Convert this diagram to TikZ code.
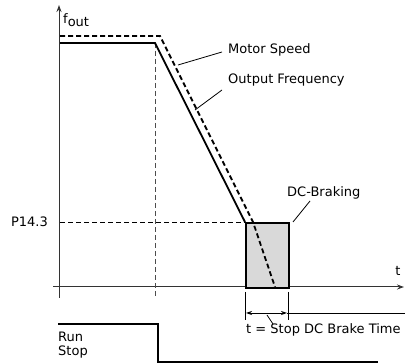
\documentclass[tikz,border=0pt]{standalone}
\usepackage{fontspec}
\setmainfont{DejaVu Sans}
\usetikzlibrary{arrows.meta}
\begin{document}
\begin{tikzpicture}[x=1pt,y=-1pt,
  lbl/.style={inner sep=0pt,font=\fontsize{13}{15}\selectfont},
  axis/.style={line width=1pt,draw=black!80},
  curve/.style={line width=1.8pt},
  dcurve/.style={line width=1.8pt,dash pattern=on 5pt off 3pt},
  guide/.style={line width=0.9pt,dash pattern=on 5pt off 3pt},
  leader/.style={line width=0.8pt},
  tip/.style={-{Stealth[length=7pt,width=5pt]}}]
\useasboundingbox (0,0) rectangle (405,363);
% axes
\coordinate (ybot) at (59,298);
\coordinate (ytop) at (59,5);
\coordinate (xl) at (53,287);
\coordinate (xr) at (404,287);
\draw[axis,tip] (ybot) -- (ytop);
\draw[axis,tip] (xl) -- (xr);
\node[lbl,anchor=west] (fout) at (63,20) {f\raisebox{-0.5ex}{out}};
\node[lbl] (tl) at (398,271) {t};
% guide lines
\coordinate (b1) at (155,43);
\coordinate (b1d) at (155,298);
\draw[guide,draw=black!70] (b1) -- (b1d);
\coordinate (p0) at (60,222);
\coordinate (p1) at (245,222);
\draw[guide] (p0) -- (p1);
\node[lbl,anchor=east] (P) at (48,222) {P14.3};
% braking box
\node[draw,line width=1.6pt,fill=black!15,minimum width=43pt,minimum height=65pt,inner sep=0pt,anchor=north west] (box) at (245,222) {};
% output frequency
\coordinate (o0) at (60,43);
\draw[curve,line join=miter] (o0) -- (b1) -- (p1);
% motor speed
\coordinate (m0) at (60,36);
\coordinate (m1) at (160,36);
\coordinate (m2) at (253,222);
\coordinate (m3) at (275,287);
\draw[dcurve] (m0) -- (m1) -- (m2) -- (m3);
% labels
\node[lbl,anchor=west] (ms) at (228,50) {Motor Speed};
\node[lbl,anchor=west] (of) at (228,80) {Output Frequency};
\node[lbl,anchor=west] (dc) at (287,193) {DC-Braking};
\coordinate (msl) at (178,65);
\coordinate (msr) at (222,52);
\coordinate (ofl) at (195,110);
\coordinate (ofr) at (222,90);
\coordinate (dcl) at (293,222);
\coordinate (dcr) at (310,201);
\draw[leader] (msl) -- (msr);
\draw[leader] (ofl) -- (ofr);
\draw[leader] (dcl) -- (dcr);
% brake time
\coordinate (k1a) at (245,292);
\coordinate (k1b) at (245,320);
\coordinate (k2a) at (288,292);
\coordinate (k2b) at (288,320);
\draw[leader] (k1a) -- (k1b);
\draw[leader] (k2a) -- (k2b);
\coordinate (a1) at (246,313);
\coordinate (a2) at (287,313);
\draw[leader,{Stealth[length=6pt,width=4pt]}-{Stealth[length=6pt,width=4pt]}] (a1) -- (a2);
\coordinate (hr) at (405,313);
\draw[leader] (a2) -- (hr);
\node[lbl,anchor=west] (tt) at (246,330) {t = Stop DC Brake Time};
\coordinate (ttl) at (267,315);
\coordinate (ttl2) at (273,324);
\draw[leader] (ttl) -- (ttl2);
% run/stop
\coordinate (r0) at (58,324);
\coordinate (r1) at (158,324);
\coordinate (r2) at (158,362);
\coordinate (r3) at (378,362);
\draw[curve] (r0) -- (r1) -- (r2) -- (r3);
\node[lbl,anchor=west] (run) at (58,337) {Run};
\node[lbl,anchor=west] (stop) at (58,352) {Stop};
\end{tikzpicture}
\end{document}
